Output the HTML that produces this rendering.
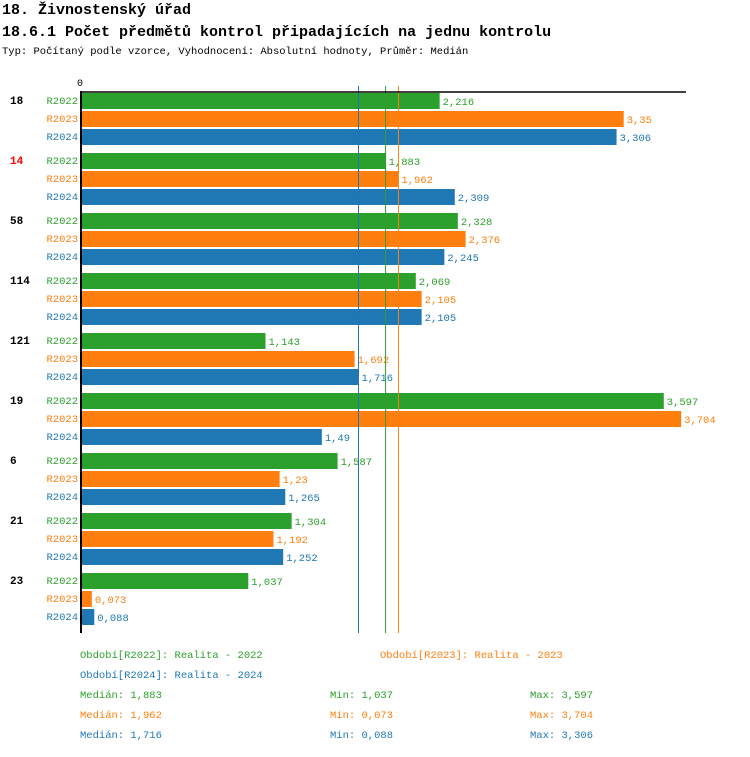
<!DOCTYPE html>
<html><head><meta charset="utf-8"><style>
body{margin:0;background:#fff;font-family:"Liberation Mono",monospace;}
svg text{font-family:"Liberation Mono",monospace;}
</style></head><body>
<svg id="c" width="750" height="752" xmlns="http://www.w3.org/2000/svg">
<text x="2" y="14" font-size="15" font-weight="bold" fill="#000">18. Živnostenský úřad</text>
<text x="2" y="36" font-size="15" font-weight="bold" fill="#000">18.6.1 Počet předmětů kontrol připadajících na jednu kontrolu</text>
<text x="2" y="54" font-size="10.5" fill="#000">Typ: Počítaný podle vzorce, Vyhodnocení: Absolutní hodnoty, Průměr: Medián</text>
<text x="77" y="86" font-size="10" fill="#000">0</text>
<g id="marks"></g>
<line x1="80" y1="92" x2="686" y2="92" stroke="#000" stroke-width="1.5"/>
<line x1="81" y1="91" x2="81" y2="633" stroke="#000" stroke-width="2"/>
<g font-size="10.5">
<text x="80" y="658" fill="#2ca02c">Období[R2022]: Realita - 2022</text>
<text x="380" y="658" fill="#ff7f0e">Období[R2023]: Realita - 2023</text>
<text x="80" y="678" fill="#1f77b4">Období[R2024]: Realita - 2024</text>
<text x="80" y="698" fill="#2ca02c">Medián: 1,883</text>
<text x="330" y="698" fill="#2ca02c">Min: 1,037</text>
<text x="530" y="698" fill="#2ca02c">Max: 3,597</text>
<text x="80" y="718" fill="#ff7f0e">Medián: 1,962</text>
<text x="330" y="718" fill="#ff7f0e">Min: 0,073</text>
<text x="530" y="718" fill="#ff7f0e">Max: 3,704</text>
<text x="80" y="738" fill="#1f77b4">Medián: 1,716</text>
<text x="330" y="738" fill="#1f77b4">Min: 0,088</text>
<text x="530" y="738" fill="#1f77b4">Max: 3,306</text>
</g>
</svg>
<script>
const categories=["18","14","58","114","121","19","6","21","23"];
const highlighted=["14"];
const seriesNames=["R2022","R2023","R2024"];
const r2022=[2.216,1.883,2.328,2.069,1.143,3.597,1.587,1.304,1.037];
const r2023=[3.35,1.962,2.376,2.105,1.692,3.704,1.23,1.192,0.073];
const r2024=[3.306,2.309,2.245,2.105,1.716,1.49,1.265,1.252,0.088];
const medians=[1.883,1.962,1.716];
const colors=["#2ca02c","#ff7f0e","#1f77b4"];
const NS="http://www.w3.org/2000/svg";
const g=document.getElementById('marks');
const x=v=>80+v*162.3;
const y=(gi,si)=>92+gi*60+si*18;
function mk(t,a){const e=document.createElementNS(NS,t);for(const k in a)e.setAttribute(k,a[k]);g.appendChild(e);return e;}
const series=[r2022,r2023,r2024];
categories.forEach((c,gi)=>{
  const t=mk('text',{x:10,y:y(gi,0)+12,'font-size':11,'font-weight':'bold',fill:highlighted.includes(c)?'#f00':'#000'});
  t.textContent=c;
  
  
  series.forEach((s,si)=>{
    const v=s[gi];
    const lb=mk('text',{x:78,y:y(gi,si)+12,'font-size':10.5,fill:colors[si],'text-anchor':'end'});
    lb.textContent=seriesNames[si];
    
    
    const r=mk('rect',{x:82,y:y(gi,si)+1,width:Math.max(0,x(v)-82),height:16,fill:colors[si]});
    
    
    const vl=mk('text',{x:x(v)+3,y:y(gi,si)+13,'font-size':10.5,fill:colors[si]});
    vl.textContent=v.toString().replace('.',',');
    
    
  });
});
medians.forEach((m,i)=>{
  const l=mk('line',{x1:x(m),x2:x(m),y1:86,y2:633,stroke:colors[i],'stroke-width':1});
  
  
});
</script>
</body></html>
